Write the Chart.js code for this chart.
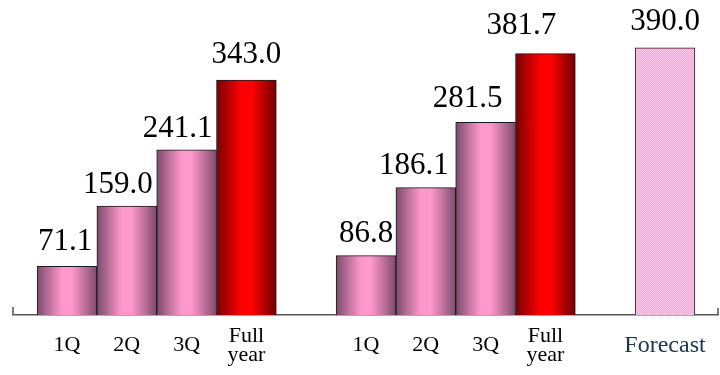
<!DOCTYPE html>
<html>
<head>
<meta charset="utf-8">
<script src="https://cdn.jsdelivr.net/npm/chart.js@4/dist/chart.umd.min.js"></script>
<style>
  html, body { margin: 0; padding: 0; background: #ffffff; }
  #wrap { width: 720px; height: 375px; position: relative; }
</style>
</head>
<body>
<div id="wrap"><canvas id="chart"></canvas></div>
<script>
// Quarterly cumulative results for two years, plus the full-year forecast
const quarterLabels = ['1Q', '2Q', '3Q', ['Full', 'year']];
const previousYear = [71.1, 159.0, 241.1, 343.0];
const currentYear = [86.8, 186.1, 281.5, 381.7];
const forecastLabel = 'Forecast';
const forecastValue = 390.0;

// Slot layout on the x axis: one empty slot between the groups
const prevSlots = [0, 1, 2, 3];
const currSlots = [5, 6, 7, 8];
const forecastSlot = 10;

// Placement of each value text: horizontal nudge from the bar centre and
// gap between text baseline and bar top (px)
const labelNudgeX = [-2, -9, -9, 0, 0, -12, -18, -24, 0];
const labelGap = [16, 13, 13, 17, 14, 14, 15, 20, 18];

const points = [];
const kinds = [];
const tickText = {};
previousYear.forEach((v, i) => {
  points.push({ x: prevSlots[i], y: v });
  kinds.push(i === 3 ? 'total' : 'quarter');
  tickText[prevSlots[i]] = quarterLabels[i];
});
currentYear.forEach((v, i) => {
  points.push({ x: currSlots[i], y: v });
  kinds.push(i === 3 ? 'total' : 'quarter');
  tickText[currSlots[i]] = quarterLabels[i];
});
points.push({ x: forecastSlot, y: forecastValue });
kinds.push('forecast');
tickText[forecastSlot] = forecastLabel;

// Fine pink checker fill for the forecast bar
function makeChecker() {
  const c = document.createElement('canvas');
  c.width = 2; c.height = 2;
  const g = c.getContext('2d');
  g.fillStyle = '#ffa2d1'; g.fillRect(0, 0, 2, 2);
  g.fillStyle = '#ffd0e8'; g.fillRect(0, 0, 1, 1); g.fillRect(1, 1, 1, 1);
  return g.createPattern(c, 'repeat');
}
let checker = null;

function barFill(ctx) {
  if (ctx.type !== 'data') return '#ff99cc';
  const chart = ctx.chart;
  const kind = kinds[ctx.dataIndex];
  if (kind === 'forecast') {
    if (!checker) checker = makeChecker();
    return checker;
  }
  if (!chart.chartArea) return kind === 'total' ? '#ff0000' : '#ff99cc';
  const xs = chart.scales.x;
  const cx = xs.getPixelForValue(ctx.parsed.x);
  const half = (xs.getPixelForValue(1) - xs.getPixelForValue(0)) / 2;
  const g = chart.ctx.createLinearGradient(cx - half, 0, cx + half, 0);
  if (kind === 'total') {
    g.addColorStop(0, '#7a0000');
    g.addColorStop(0.42, '#ff0000');
    g.addColorStop(0.58, '#ff0000');
    g.addColorStop(1, '#6e0000');
  } else {
    g.addColorStop(0, '#7e4a6c');
    g.addColorStop(0.42, '#ff99cc');
    g.addColorStop(0.58, '#ff99cc');
    g.addColorStop(1, '#7e4a6c');
  }
  return g;
}

// Value text above each bar
const valueLabels = {
  id: 'valueLabels',
  afterDatasetsDraw(chart) {
    const ctx = chart.ctx;
    const meta = chart.getDatasetMeta(0);
    ctx.save();
    ctx.font = '31px "Liberation Serif", "Times New Roman", serif';
    ctx.fillStyle = '#000000';
    ctx.textAlign = 'center';
    ctx.textBaseline = 'alphabetic';
    meta.data.forEach((el, i) => {
      const v = chart.data.datasets[0].data[i].y;
      ctx.fillText(v.toFixed(1), el.x + (labelNudgeX[i] || 0), el.y - (labelGap[i] || 15));
    });
    ctx.restore();
  }
};

// Small upward end ticks on the baseline
const axisEnds = {
  id: 'axisEnds',
  afterDraw(chart) {
    const { left, right, bottom } = chart.chartArea;
    const ctx = chart.ctx;
    ctx.save();
    ctx.strokeStyle = '#555555';
    ctx.lineWidth = 1.5;
    ctx.beginPath();
    ctx.moveTo(left, bottom - 8); ctx.lineTo(left, bottom);
    ctx.moveTo(right, bottom - 7); ctx.lineTo(right, bottom);
    ctx.stroke();
    ctx.restore();
  }
};

const serif = '"Liberation Serif", "Times New Roman", serif';

new Chart(document.getElementById('chart'), {
  type: 'bar',
  data: {
    datasets: [{
      data: points,
      backgroundColor: barFill,
      borderColor: '#1a1a1a',
      borderWidth: 1,
      barPercentage: 1,
      categoryPercentage: 1
    }]
  },
  options: {
    responsive: true,
    maintainAspectRatio: false,
    animation: false,
    events: [],
    layout: { padding: { left: 13, right: 2, top: 0, bottom: 0 } },
    plugins: { legend: { display: false }, tooltip: { enabled: false } },
    scales: {
      x: {
        type: 'linear',
        offset: false,
        min: -0.903,
        max: 10.886,
        grid: { display: false, drawTicks: false, offset: false },
        border: { display: true, color: '#555555', width: 1.5 },
        afterBuildTicks(scale) {
          scale.ticks = Object.keys(tickText).map(k => ({ value: Number(k) }));
        },
        afterFit(scale) {
          scale.height = 60;
          scale.paddingLeft = 0;
          scale.paddingRight = 0;
        },
        ticks: {
          autoSkip: false,
          maxRotation: 0,
          minRotation: 0,
          padding: 21,
          crossAlign: 'center',
          font: (c) => (c.tick && c.tick.value === forecastSlot
            ? { family: serif, size: 24, lineHeight: '19px' }
            : { family: serif, size: 22, lineHeight: '19px' }),
          color: (c) => (c.tick && c.tick.value === forecastSlot ? '#1c3552' : '#000000'),
          callback: (value) => tickText[value]
        }
      },
      y: {
        display: false,
        min: 0,
        max: 460
      }
    }
  },
  plugins: [valueLabels, axisEnds]
});
</script>
</body>
</html>
